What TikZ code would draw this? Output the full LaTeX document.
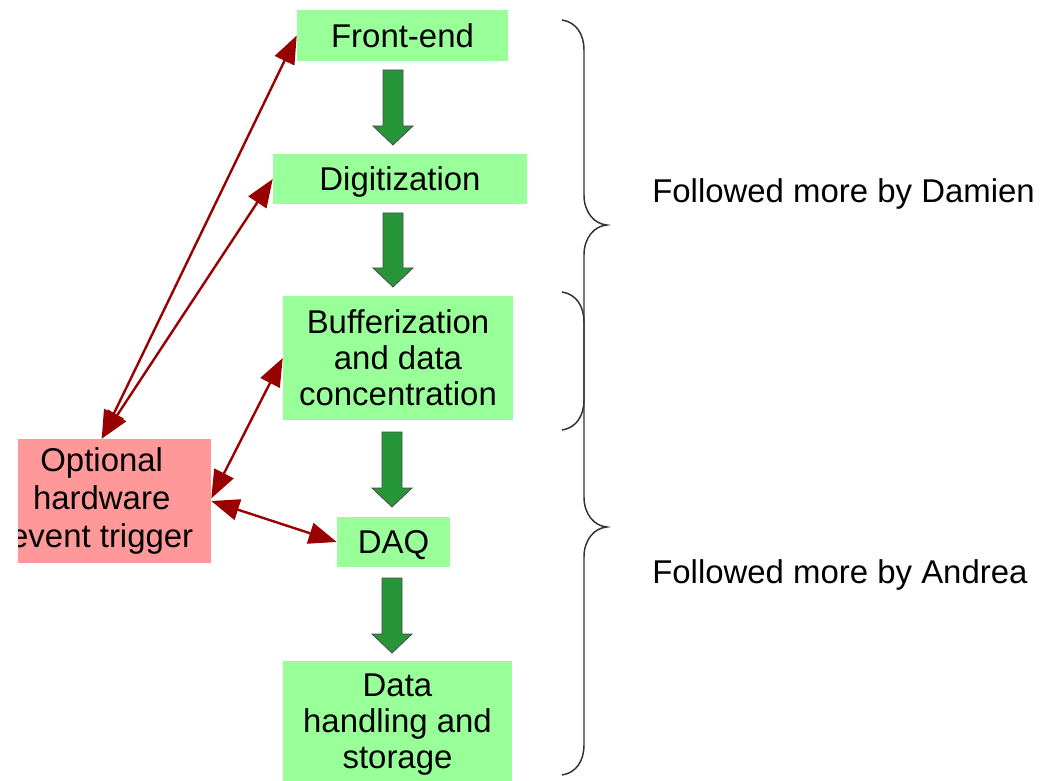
\documentclass[tikz,border=0pt]{standalone}
\usepackage{fontspec}
\setmainfont{Liberation Sans}
\usetikzlibrary{arrows.meta}
\definecolor{boxgreen}{RGB}{153,255,153}
\definecolor{boxpink}{RGB}{255,153,153}
\definecolor{linkred}{RGB}{153,0,0}
\definecolor{blockgreen}{RGB}{38,150,56}
\definecolor{bracegray}{RGB}{50,50,50}
\tikzset{
  stage/.style={fill=boxgreen, inner sep=0pt, align=center, font=\fontsize{24.7}{27}\selectfont},
  oneline/.style={text depth=0pt},
  trigbox/.style={fill=boxpink, inner sep=0pt, align=center, font=\fontsize{24.7}{28.5}\selectfont},
  link/.style={draw=linkred, line width=1.8pt, {Triangle[length=21pt,width=16pt]}-{Triangle[length=21pt,width=16pt]}, fill=linkred},
  blockarrow/.style={fill=blockgreen, draw=black!70, line width=0.6pt, line join=miter},
  bracepath/.style={draw=bracegray, line width=1.1pt},
  note/.style={inner sep=0pt, anchor=base west, font=\fontsize{24.7}{27}\selectfont}
}
\newcommand{\greenarrow}[3]{% x-center, y-top, y-tip
  \path[blockarrow] (#1-10,#2) -- (#1+10,#2) -- (#1+10,#3-19) -- (#1+20,#3-19) -- (#1,#3) -- (#1-20,#3-19) -- (#1-10,#3-19) -- cycle;
}
\begin{document}
\begin{tikzpicture}[x=0.75pt,y=-0.75pt]
\useasboundingbox (0,0) rectangle (1061,781);
\clip (0,0) rectangle (1061,781);
\fill[white] (0,0) rectangle (1061,781);

% stages
\node[stage, oneline, minimum width=158.25pt, minimum height=38.25pt] (fe) at (402.5,35.5) {Front-end};
\node[stage, oneline, minimum width=190.5pt, minimum height=37.5pt] (dig) at (400,179) {Digitization};
\node[stage, minimum width=172.5pt, minimum height=93pt] (buf) at (398,358) {Bufferization\\and data\\concentration};
\node[stage, oneline, minimum width=84.75pt, minimum height=37.5pt] (daq) at (393.5,542) {DAQ};
\node[stage, minimum width=171.75pt, minimum height=96pt] (dh) at (397.5,725) {Data\\handling and\\storage};

% trigger box (cut at its left side)
\begin{scope}
  \clip (18,400) rectangle (230,600);
  \node[trigbox, minimum width=164pt, minimum height=93pt] (trig) at (101.7,501) {Optional\\hardware\\event trigger};
\end{scope}

% block arrows
\greenarrow{393}{70}{145}
\greenarrow{393}{213}{287}
\greenarrow{392}{432}{507}
\greenarrow{392}{578}{653}

% links
\draw[link] (trig.north) -- (fe.west);
\draw[link] (trig.north) -- (dig.west);
\draw[link] ([yshift=2pt]trig.east) -- (buf.west);
\draw[link] (trig.east) -- (daq.west);

% braces
\path[bracepath] (562,20) .. controls (576,22) and (584,34) .. (584,50) -- (584,195)
  .. controls (584,212) and (594,224) .. (607,225)
  .. controls (594,226) and (584,238) .. (584,255) -- (584,400)
  .. controls (584,416) and (576,428) .. (562,430);
\path[bracepath] (562,292) .. controls (576,294) and (584,306) .. (584,322) -- (584,497)
  .. controls (584,514) and (594,526) .. (607,527)
  .. controls (594,528) and (584,540) .. (584,557) -- (584,745)
  .. controls (584,761) and (576,773) .. (562,775);

% notes
\node[note] (damien) at (652,203) {Followed more by Damien};
\node[note] (andrea) at (652,583) {Followed more by Andrea};
\end{tikzpicture}
\end{document}
